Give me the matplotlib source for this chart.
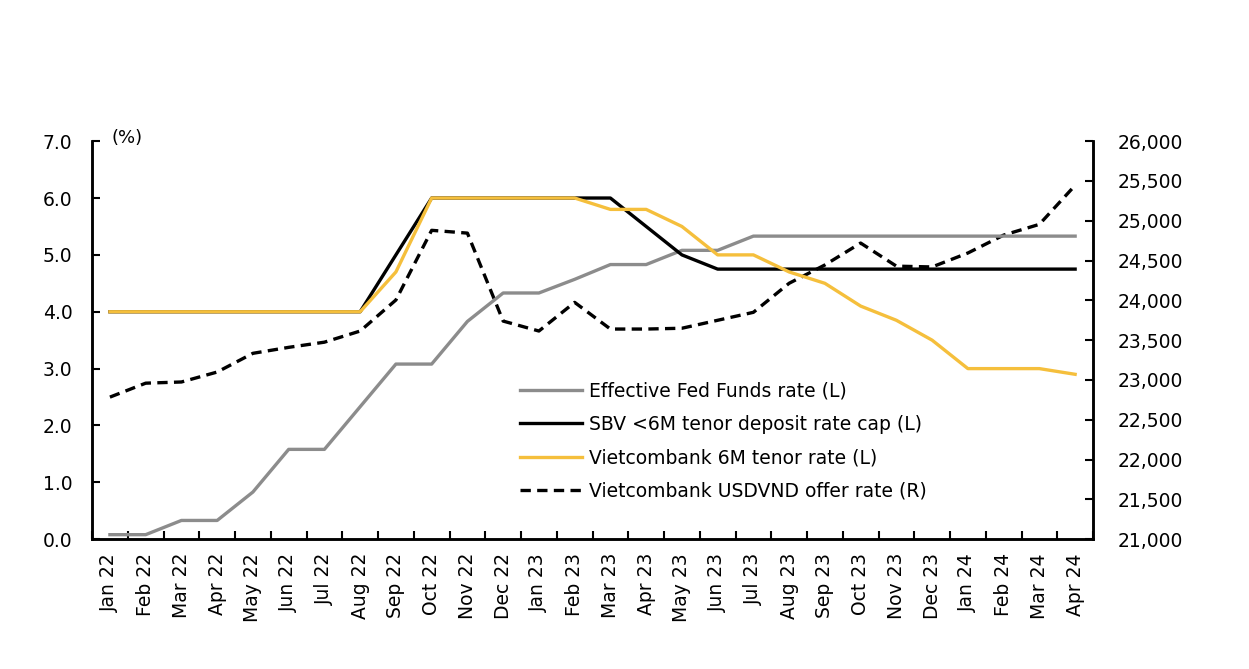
import numpy as np
import matplotlib.pyplot as plt
from matplotlib.ticker import FuncFormatter

meses = ['Jan 22', 'Feb 22', 'Mar 22', 'Apr 22', 'May 22', 'Jun 22', 'Jul 22',
         'Aug 22', 'Sep 22', 'Oct 22', 'Nov 22', 'Dec 22', 'Jan 23', 'Feb 23',
         'Mar 23', 'Apr 23', 'May 23', 'Jun 23', 'Jul 23', 'Aug 23', 'Sep 23',
         'Oct 23', 'Nov 23', 'Dec 23', 'Jan 24', 'Feb 24', 'Mar 24', 'Apr 24']

fed_funds = [0.08, 0.08, 0.33, 0.33, 0.83, 1.58, 1.58, 2.33, 3.08, 3.08, 3.83, 4.33,
             4.33, 4.57, 4.83, 4.83, 5.08, 5.08, 5.33, 5.33, 5.33, 5.33, 5.33, 5.33,
             5.33, 5.33, 5.33, 5.33]
sbv_cap = [4.0, 4.0, 4.0, 4.0, 4.0, 4.0, 4.0, 4.0, 5.0, 6.0, 6.0, 6.0,
           6.0, 6.0, 6.0, 5.5, 5.0, 4.75, 4.75, 4.75, 4.75, 4.75, 4.75, 4.75,
           4.75, 4.75, 4.75, 4.75]
vcb_6m = [4.0, 4.0, 4.0, 4.0, 4.0, 4.0, 4.0, 4.0, 4.7, 6.0, 6.0, 6.0,
          6.0, 6.0, 5.8, 5.8, 5.5, 5.0, 5.0, 4.7, 4.5, 4.1, 3.85, 3.5,
          3.0, 3.0, 3.0, 2.9]
usdvnd = [22785, 22960, 22975, 23100, 23335, 23410, 23475, 23615, 24005, 24880, 24845, 23740,
          23615, 23975, 23640, 23640, 23650, 23750, 23850, 24215, 24445, 24720, 24430, 24420,
          24595, 24820, 24955, 25445]

cor_cinza = '#8c8c8c'
cor_amarela = '#f5bf3c'

plt.rcParams['font.family'] = ['DejaVu Sans']
plt.rcParams['font.size'] = 13.5

fig = plt.figure(figsize=(12.49, 6.69), dpi=100)
ax = fig.add_axes([0.0737, 0.194, 0.8014, 0.595])
ax2 = ax.twinx()

x = np.arange(len(meses))
l1, = ax.plot(x, fed_funds, color=cor_cinza, lw=2.4, label='Effective Fed Funds rate (L)')
l2, = ax.plot(x, sbv_cap, color='black', lw=2.4, label='SBV <6M tenor deposit rate cap (L)')
l3, = ax.plot(x, vcb_6m, color=cor_amarela, lw=2.4, label='Vietcombank 6M tenor rate (L)')
l4, = ax2.plot(x, usdvnd, color='black', lw=2.4, ls=(0, (3.1, 1.9)),
               label='Vietcombank USDVND offer rate (R)')
ax.set_zorder(ax2.get_zorder() + 1)
ax.patch.set_visible(False)

ax.set_xlim(-0.5, len(meses) - 0.5)
ax.set_ylim(0, 7)
ax2.set_ylim(21000, 26000)
ax.set_yticks(np.arange(0, 7.1, 1.0))
ax.yaxis.set_major_formatter(FuncFormatter(lambda v, p: f'{v:.1f}'))
ax2.set_yticks(np.arange(21000, 26001, 500))
ax2.yaxis.set_major_formatter(FuncFormatter(lambda v, p: f'{int(v):,}'))

# ticks do eixo x ficam entre as categorias, texto no centro
ax.set_xticks(x)
ax.set_xticklabels(meses, rotation=90)
ax.set_xticks(np.arange(-0.5, len(meses), 1.0), minor=True)
ax.tick_params(axis='x', which='major', length=0, pad=10)
ax.tick_params(axis='x', which='minor', direction='in', length=6, width=1.5)
ax.tick_params(axis='y', direction='in', length=6, width=1.5, pad=14)
ax2.tick_params(axis='y', direction='in', length=6, width=1.5, pad=18)

for a in (ax, ax2):
    a.spines['top'].set_visible(False)
    for s in ('left', 'right', 'bottom'):
        a.spines[s].set_linewidth(1.8)

ax.text(0.05, 6.9, '(%)', ha='left', va='bottom', fontsize=13)

ax.legend(handles=[l1, l2, l3, l4], loc='upper left', bbox_to_anchor=(0.42, 0.416),
          frameon=False, fontsize=13.5, handlelength=3.3, handletextpad=0.4,
          labelspacing=0.78, borderaxespad=0)

fig.savefig('out.png', dpi=100)
